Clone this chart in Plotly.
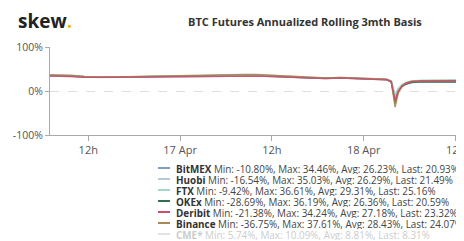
import plotly.graph_objects as go

# ---- data ----
times = ["2020-04-16 07:00", "2020-04-16 08:30", "2020-04-16 10:00", "2020-04-16 11:30",
         "2020-04-16 13:30", "2020-04-16 15:30", "2020-04-16 19:00", "2020-04-17 00:00",
         "2020-04-17 03:00", "2020-04-17 05:30", "2020-04-17 08:30", "2020-04-17 10:00",
         "2020-04-17 12:00", "2020-04-17 14:30", "2020-04-17 17:00", "2020-04-17 19:00",
         "2020-04-17 21:00", "2020-04-17 23:30", "2020-04-18 01:30", "2020-04-18 03:00",
         "2020-04-18 03:36", "2020-04-18 04:06", "2020-04-18 04:30", "2020-04-18 05:00",
         "2020-04-18 05:30", "2020-04-18 06:12", "2020-04-18 07:30", "2020-04-18 10:00",
         "2020-04-18 13:18"]

bitmex = [34, 34, 33, 31.5, 30.5, 31, 32, 33, 33.5, 34.2, 34.4, 34.3, 33, 31, 29.5, 28.5,
          29.5, 28.5, 27.5, 25.5, 20, -10.8, 2, 11, 16, 19.5, 21, 21.5, 20.9]
huobi = [35, 34.8, 33.5, 32, 30.5, 31, 32.5, 33.5, 34, 34.8, 35, 34.9, 33.5, 31.5, 29.8, 28.8,
         29.8, 28.8, 27.8, 25.8, 21, -16.5, 1, 11, 16.5, 20, 21.5, 22, 21.5]
ftx = [36.5, 36, 35, 33, 31.5, 32, 33.5, 34.5, 35, 36, 36.6, 36.5, 35, 32.5, 30.5, 29.5,
       30.5, 29.5, 28.5, 26.5, 23, -9.4, 6, 15, 19.5, 23, 24.5, 25, 25.2]
okex = [36, 35.5, 34.5, 32.5, 31, 31.5, 33, 34, 34.5, 35.8, 36.2, 36, 34.8, 32, 30, 29,
        30, 29, 28, 26, 21, -28.7, -2, 10, 15.5, 19.5, 21, 21.5, 20.6]
deribit = [34, 33.8, 33, 31.5, 30.5, 31, 32, 33, 33.5, 34, 34.2, 34, 33, 31, 29.5, 28.5,
           29.5, 28.5, 27.5, 25.5, 21, -21.4, 0, 11, 17, 21, 22.5, 23.5, 23.3]
binance = [36.5, 36, 35, 33, 31.5, 32, 33.5, 34.5, 35.5, 36.8, 37.6, 37.4, 35.5, 32.5, 30.5, 29.5,
           30.5, 29.5, 28.5, 26.5, 22, -36.75, -5, 12, 18, 22, 23.5, 24, 24.1]

names = ["BitMEX", "Huobi", "FTX", "OKEx", "Deribit", "Binance", "CME*"]
mins = [-10.80, -16.54, -9.42, -28.69, -21.38, -36.75, 5.74]
maxs = [34.46, 35.03, 36.61, 36.19, 34.24, 37.61, 10.09]
avgs = [26.23, 26.29, 29.31, 26.36, 27.18, 28.43, 8.81]
lasts = [20.93, 21.49, 25.16, 20.59, 23.32, 24.07, 8.31]
colors = ["#7f9fc2", "#b4cad9", "#a6d9c4", "#2f6f52", "#c9506a", "#a58a52", "#e2e2e2"]
visible = [True, True, True, True, True, True, False]

tick_vals = ["2020-04-16 12:00", "2020-04-17 00:00", "2020-04-17 12:00",
             "2020-04-18 00:00", "2020-04-18 12:00"]
tick_text = ["12h", "17 Apr", "12h", "18 Apr", "12h"]
y_ticks = [-100, 0, 100]
y_text = ["-100%", "0%", "100%"]

series = [bitmex, huobi, ftx, okex, deribit, binance]

FONT = "Open Sans"
fig = go.Figure()
draw_order = [0, 1, 3, 2, 5, 4]
for i in draw_order:
    fig.add_trace(go.Scatter(x=times, y=series[i], mode="lines", name=names[i],
                             line=dict(color=colors[i], width=1.5), opacity=0.9,
                             showlegend=False))

# page has an 8px body margin: figure is offset by 8px
OFF = 8
W, H = 464 - OFF, 241 - OFF
L, R, T = 50 - OFF, 0, 47 - OFF
ph = 88
B = H - T - ph
pw = W - L - R


def px(xpage):
    return (xpage - OFF - L) / pw


def py(ypage):
    return (T + ph - (ypage - OFF)) / ph


# legend (built from the lists above)
for i, n in enumerate(names):
    ypix = 168 + 11 * i
    yp = py(ypix)
    txtcol = "#333" if visible[i] else "#cccccc"
    restcol = "#444" if visible[i] else "#cccccc"
    fig.add_shape(type="line", xref="paper", yref="paper",
                  x0=px(158), x1=px(170), y0=yp, y1=yp,
                  line=dict(color=colors[i], width=2))
    txt = (f"<b>{n}</b><span style='color:{restcol}'> Min: {mins[i]:.2f}%, Max: {maxs[i]:.2f}%, "
           f"Avg: {avgs[i]:.2f}%, Last: {lasts[i]:.2f}%</span>")
    fig.add_annotation(text=txt, xref="paper", yref="paper", x=px(174), y=yp,
                       xanchor="left", yanchor="middle", showarrow=False, height=11,
                       font=dict(family=FONT, size=9.9, color=txtcol))

# logo and title
fig.add_annotation(text="<b>skew</b><span style='color:#f2b705'><b>.</b></span>",
                   xref="paper", yref="paper", x=px(16), y=py(21),
                   xanchor="left", yanchor="middle", showarrow=False,
                   font=dict(family=FONT, size=19, color="#222"))
fig.add_annotation(text="<b>BTC Futures Annualized Rolling 3mth Basis</b>",
                   xref="paper", yref="paper", x=px(305), y=py(21),
                   xanchor="center", yanchor="middle", showarrow=False,
                   font=dict(family=FONT, size=11, color="#333"))

fig.update_layout(
    width=W, height=H, margin=dict(l=L, r=R, t=T, b=B),
    paper_bgcolor="white", plot_bgcolor="white", showlegend=False,
    xaxis=dict(type="date", range=["2020-04-16 07:00", "2020-04-18 13:06"],
               tickvals=tick_vals, ticktext=tick_text, showgrid=False,
               showline=True, linecolor="#aaa", linewidth=1,
               ticks="outside", ticklen=5, tickcolor="#aaa",
               ticklabeloverflow="allow",
               tickfont=dict(family=FONT, size=11, color="#555")),
    yaxis=dict(range=[-100, 100], tickvals=y_ticks, ticktext=y_text,
               showgrid=True, gridcolor="#dedede", griddash="dash", zeroline=False,
               showline=True, linecolor="#aaa", linewidth=1,
               ticks="outside", ticklen=4, tickcolor="#aaa",
               tickfont=dict(family=FONT, size=10.5, color="#555")),
)

fig.write_html("out.html")
